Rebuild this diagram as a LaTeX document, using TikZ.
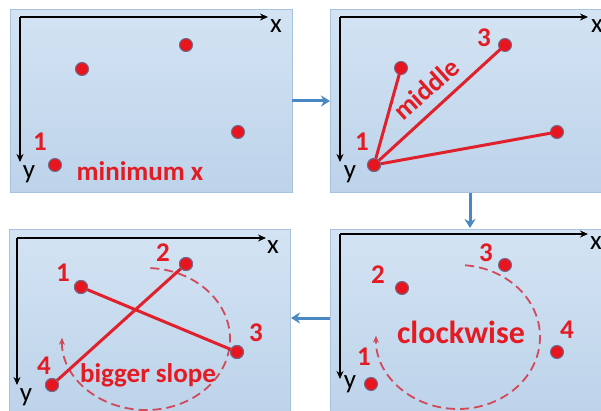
\documentclass[tikz,border=0pt]{standalone}
\usepackage{fontspec}
\setmainfont{Carlito}
\usetikzlibrary{arrows.meta}
\definecolor{dotred}{HTML}{E8141E}
\definecolor{dotedge}{HTML}{6E6A8A}
\definecolor{linered}{HTML}{E0202A}
\definecolor{txtred}{HTML}{E31B23}
\definecolor{dashred}{HTML}{D24A5A}
\definecolor{flowblue}{HTML}{4A88C4}
\definecolor{paneltop}{HTML}{D3E3F3}
\definecolor{panelbot}{HTML}{BDD3EA}
\definecolor{paneledge}{HTML}{A9C3DE}
\begin{document}
\begin{tikzpicture}[x=1pt,y=-1pt,
 panel/.style={draw=paneledge, line width=1pt, top color=paneltop, bottom color=panelbot},
 pt/.style={circle, fill=dotred, draw=dotedge, line width=1pt, minimum size=13pt, inner sep=0pt},
 seg/.style={draw=linered, line width=3pt, shorten >=-2pt, shorten <=-2pt},
 axis/.style={draw=black, line width=1.8pt, -{Stealth[length=8pt,width=7pt]}},
 axlab/.style={font=\fontsize{27}{27}\selectfont, inner sep=0pt},
 num/.style={text=txtred, font=\bfseries\fontsize{27}{27}\selectfont, inner sep=0pt},
 flow/.style={draw=flowblue, line width=3pt, -{Stealth[length=9pt,width=11pt]}},
 turn/.style={draw=dashred, line width=1.8pt, dash pattern=on 9pt off 5pt, -{Stealth[length=7pt,width=6pt]}}
]
\useasboundingbox (0,0) rectangle (601,411);
% panels
\path[panel] (10,10) rectangle (292,193);
\path[panel] (330,10) rectangle (605,193);
\path[panel] (9,230) rectangle (290,415);
\path[panel] (330,230) rectangle (605,415);
% flow arrows
\coordinate (f1a) at (292,101); \coordinate (f1b) at (330,101);
\coordinate (f2a) at (470,193); \coordinate (f2b) at (470,228);
\coordinate (f3a) at (330,318); \coordinate (f3b) at (291,318);
\draw[flow] (f1a) -- (f1b);
\draw[flow] (f2a) -- (f2b);
\draw[flow] (f3a) -- (f3b);
% ---------- panel 1 ----------
\coordinate (o1) at (20,17); \coordinate (x1) at (268,17); \coordinate (y1) at (20,162);
\draw[axis] (o1) -- (x1);
\draw[axis] (o1) -- (y1);
\node[axlab] (lx1) at (276,26) {x};
\node[axlab] (ly1) at (29,174) {y};
\node[pt] (a1) at (82,69) {};
\node[pt] (b1) at (186,45) {};
\node[pt] (c1) at (238,132) {};
\node[pt] (d1) at (55,165) {};
\node[num] (n1a) at (40,142) {1};
\node[num] (t1) at (140,171) {minimum x};
% ---------- panel 2 ----------
\coordinate (o2) at (340,17); \coordinate (x2) at (588,17); \coordinate (y2) at (340,162);
\draw[axis] (o2) -- (x2);
\draw[axis] (o2) -- (y2);
\node[axlab] (lx2) at (597,26) {x};
\node[axlab] (ly2) at (350,174) {y};
\node[pt] (d2) at (374,165) {};
\node[pt] (a2) at (401,68) {};
\node[pt] (b2) at (505,45) {};
\node[pt] (c2) at (557,132) {};
\draw[seg] (d2) -- (a2);
\draw[seg] (d2) -- (b2);
\draw[seg] (d2) -- (c2);
\node[pt] at (374,165) {};
\node[num] (n2a) at (362,142) {1};
\node[num] (n2c) at (484,38) {3};
\node[num, rotate=42] (t2) at (426,89) {middle};
% ---------- panel 3 ----------
\coordinate (o3) at (17,238); \coordinate (x3) at (266,238); \coordinate (y3) at (17,385);
\draw[axis] (o3) -- (x3);
\draw[axis] (o3) -- (y3);
\node[axlab] (lx3) at (273,247) {x};
\node[axlab] (ly3) at (26,397) {y};
\coordinate (e3) at (146,339);
\draw[turn] (e3) ++(-87:84 and 71) arc[start angle=-87, end angle=181, x radius=84, y radius=71];
\node[pt] (a3) at (81,287) {};
\node[pt] (b3) at (186,264) {};
\node[pt] (c3) at (237,352) {};
\node[pt] (d3) at (52,385) {};
\draw[seg] (a3) -- (c3);
\draw[seg] (b3) -- (d3);
\node[pt] at (81,287) {};
\node[pt] at (186,264) {};
\node[pt] at (237,352) {};
\node[pt] at (52,385) {};
\node[num] (n3a) at (63,273) {1};
\node[num] (n3b) at (163,253) {2};
\node[num] (n3c) at (256,333) {3};
\node[num] (n3d) at (44,366) {4};
\node[num] (t3) at (148,375) {bigger slope};
% ---------- panel 4 ----------
\coordinate (o4) at (340,234); \coordinate (x4) at (588,234); \coordinate (y4) at (340,379);
\draw[axis] (o4) -- (x4);
\draw[axis] (o4) -- (y4);
\node[axlab] (lx4) at (596,243) {x};
\node[axlab] (ly4) at (350,384) {y};
\coordinate (e4) at (458,337);
\draw[turn] (e4) ++(-85:82 and 72) arc[start angle=-85, end angle=181, x radius=82, y radius=72];
\node[pt] (a4) at (371,384) {};
\node[pt] (b4) at (402,288) {};
\node[pt] (c4) at (505,265) {};
\node[pt] (d4) at (557,352) {};
\node[num] (n4a) at (364,357) {1};
\node[num] (n4b) at (378,275) {2};
\node[num] (n4c) at (486,253) {3};
\node[num] (n4d) at (567,330) {4};
\node[num, font=\bfseries\fontsize{32}{32}\selectfont] (t4) at (461,332) {clockwise};
\end{tikzpicture}
\end{document}
